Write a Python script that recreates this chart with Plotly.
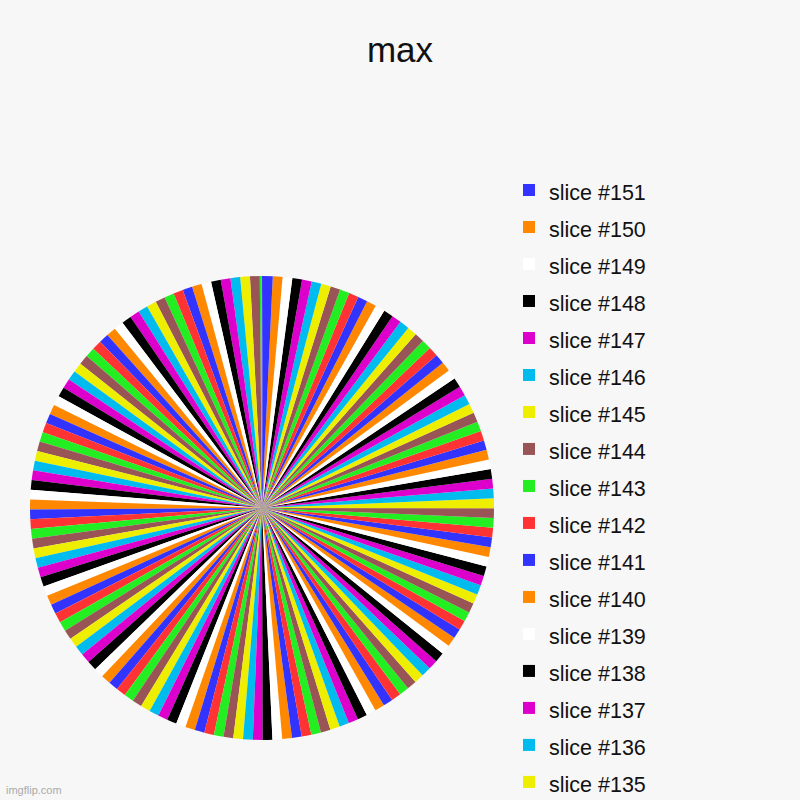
import plotly.graph_objects as go

# slice names as shown in the legend
labels = [f"slice #{i}" for i in range(1, 152)]

# slice sizes (first three are slivers at 12 o'clock)
values = [
    0.1, 0.03, 0.2, 1, 1, 1, 1, 1, 1, 1,
    1, 1, 1, 1, 1, 1, 1, 1, 1, 1,
    1, 1, 1, 1, 1, 1, 1, 1, 1, 1,
    1, 1, 1, 1, 1, 1, 1, 1, 1, 1,
    1, 1, 1, 1, 1, 1, 1, 1, 1, 1,
    1, 1, 1, 1, 1, 1, 1, 1, 1, 1,
    1, 1, 1, 1, 1, 1, 1, 1, 1, 1,
    1, 1, 1, 1, 1, 1, 1, 1, 1, 1,
    1, 1, 1, 1, 1, 1, 1, 1, 1, 1,
    1, 1, 1, 1, 1, 1, 1, 1, 1, 1,
    1, 1, 1, 1, 1, 1, 1, 1, 1, 1,
    1, 1, 1, 1, 1, 1, 1, 1, 1, 1,
    1, 1, 1, 1, 1, 1, 1, 1, 1, 1,
    1, 1, 1, 1, 1, 1, 1, 1, 1, 1,
    1, 1, 1, 1, 1, 1, 1, 1, 1, 1,
    1,
]

palette = ["#3333ff", "#ff3333", "#22ee22", "#995555", "#eeee00",
           "#00bbee", "#dd00cc", "#000000", "#ffffff", "#ff8800"]

# bigger legend font gives the row spacing, span keeps the text size
legend_text = ['<span style="font-size:21.5px">' + l + '</span>' for l in labels]

fig = go.Figure(go.Pie(
    labels=legend_text,
    values=values,
    sort=False,
    direction="counterclockwise",
    rotation=0,
    textinfo="none",
    marker=dict(line=dict(width=0)),
    domain=dict(x=[0.0375, 0.6175], y=[0.075, 0.655]),
))

fig.update_layout(
    width=800, height=800,
    paper_bgcolor="#f7f7f7",
    plot_bgcolor="#f7f7f7",
    piecolorway=palette,
    extendpiecolors=False,
    margin=dict(l=0, r=0, t=0, b=0, autoexpand=False),
    font=dict(family="Arial, Liberation Sans", color="#111111"),
    title=dict(text="max", x=0.5, xanchor="center", y=1 - 50 / 800, yanchor="middle",
               yref="container", font=dict(size=35, color="#111111")),
    legend=dict(x=509 / 800, xanchor="left", y=1 - 166.5 / 800, yanchor="top",
                traceorder="reversed", font=dict(size=26.15),
                bgcolor="rgba(0,0,0,0)", maxheight=8000),
    annotations=[dict(text="imgflip.com", x=4 / 800, y=10 / 800, xref="paper", yref="paper",
                      xanchor="left", yanchor="middle", showarrow=False,
                      font=dict(size=11, color="#aaaaaa"))],
)

fig.write_html("out.html", config={"displayModeBar": False},
               post_script="document.body.style.margin='0';")
